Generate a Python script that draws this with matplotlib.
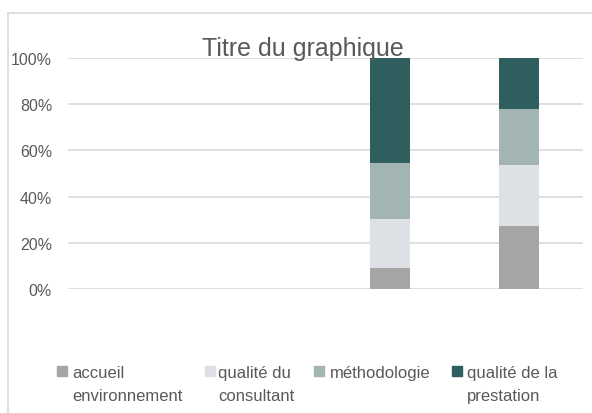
import matplotlib
matplotlib.use("Agg")
import matplotlib.pyplot as plt
import numpy as np
from matplotlib.patches import Rectangle
from matplotlib.lines import Line2D

plt.rcParams['font.family'] = ['Liberation Sans', 'DejaVu Sans']

# data (share of each item, in %)
categories = ['1', '2', '3', '4']
series_names = ['accueil\nenvironnement', 'qualité du\nconsultant',
                'méthodologie', 'qualité de la\nprestation']
accueil = [0, 0, 9.1, 27.4]
consultant = [0, 0, 21.0, 26.3]
methodo = [0, 0, 24.3, 24.2]
prestation = [0, 0, 45.6, 22.1]
colors = ['#a5a5a5', '#dde0e4', '#a2b5b3', '#2e5e5e']
ytick_labels = ['0%', '20%', '40%', '60%', '80%', '100%']

W, H = 592, 414
fig = plt.figure(figsize=(W / 100, H / 100), dpi=100)
ax = fig.add_axes([68 / W, (H - 290) / H, (583 - 68) / W, (290 - 59) / H])

x = np.arange(len(categories))
bottom = np.zeros(len(categories))
for vals, col in zip([accueil, consultant, methodo, prestation], colors):
    ax.bar(x, vals, width=0.31, bottom=bottom, color=col, zorder=3)
    bottom += np.array(vals)

ax.set_xlim(-0.5, len(categories) - 0.5)
ax.set_ylim(0, 100)
ax.set_yticks(np.arange(0, 101, 20))
ax.set_yticklabels(ytick_labels, fontsize=11.5, color='#595959')
ax.set_xticks([])
ax.tick_params(axis='y', length=0, pad=11.5)
ax.grid(axis='y', color='#d9d9d9', linewidth=1.2, zorder=0)
for s in ax.spines.values():
    s.set_visible(False)

# title sits over the top of the plot
fig.text(303 / W, (H - 56) / H, 'Titre du graphique', ha='center',
         va='baseline', fontsize=18, color='#595959')

# legend drawn by hand so the squares line up with the first text line
leg_sq = [57, 205, 314, 452]
leg_txt = [72, 218, 330, 467]
for name, col, sx, tx in zip(series_names, colors, leg_sq, leg_txt):
    fig.patches.append(Rectangle((sx / W, (H - 377) / H), 10 / W, 10 / H,
                                 transform=fig.transFigure, color=col))
    for i, line in enumerate(name.split('\n')):
        fig.text(tx / W, (H - 378 - 23 * i) / H, line, ha='left',
                 va='baseline', fontsize=12, color='#595959')

# chart area border (left and top edges visible)
fig.lines.append(Line2D([8 / W, 8 / W], [0, (H - 14) / H],
                        transform=fig.transFigure, color='#d9d9d9', lw=1.2))
fig.lines.append(Line2D([8 / W, 1], [(H - 14) / H, (H - 14) / H],
                        transform=fig.transFigure, color='#d9d9d9', lw=1.2))

fig.savefig('out.png', dpi=100)
